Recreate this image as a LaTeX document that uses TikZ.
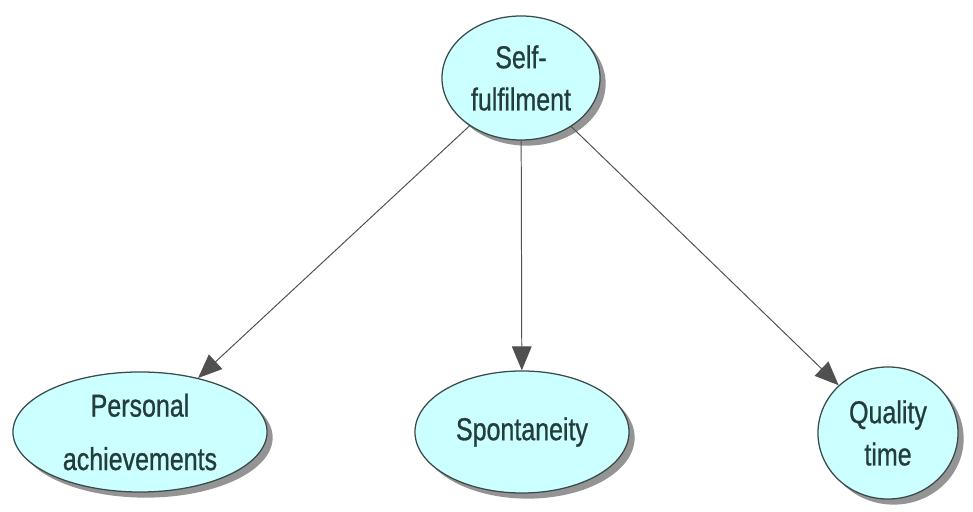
\documentclass[tikz,border=0pt]{standalone}
\usepackage{fontspec}
\setmainfont[FakeStretch=0.79, FakeBold=0.8]{Liberation Sans}
\usepackage{xcolor}
\usepackage{tikz}
\usetikzlibrary{arrows.meta,shapes.geometric,shadows}

\definecolor{conceptfill}{HTML}{CCFFFF}
\definecolor{conceptline}{HTML}{3C4A4A}
\definecolor{concepttext}{HTML}{243C3C}
\definecolor{linkgray}{HTML}{505050}

\begin{document}
\begin{tikzpicture}[
    x=0.025cm, y=0.025cm,
    concept/.style={ellipse, draw=conceptline, line width=0.9pt, fill=conceptfill,
      inner sep=0pt, align=center, text=concepttext,
      font=\fontsize{22.5}{30}\selectfont,
      drop shadow={shadow xshift=4pt, shadow yshift=-4pt, fill=black!60, opacity=0.7}},
    link/.style={draw=linkgray, line width=0.7pt,
      -{Triangle[length=17pt, width=14pt]}},
  ]
    \useasboundingbox (0,0) rectangle (973,512);

    \node[concept, minimum width=3.95cm, minimum height=3.1cm] (self) at (521,434) {Self-\\fulfilment};

    \node[concept, minimum width=6.35cm, minimum height=3.0cm] (pers) at (140,80)
      {Personal\\[8pt]achievements};
    \node[concept, minimum width=5.35cm, minimum height=3.05cm] (spon) at (522,80) {Spontaneity};
    \node[concept, minimum width=3.5cm, minimum height=3.3cm] (qual) at (888,79) {Quality\\time};

    \foreach \c in {pers,spon,qual} \draw[link] (self) -- (\c);
\end{tikzpicture}
\end{document}
